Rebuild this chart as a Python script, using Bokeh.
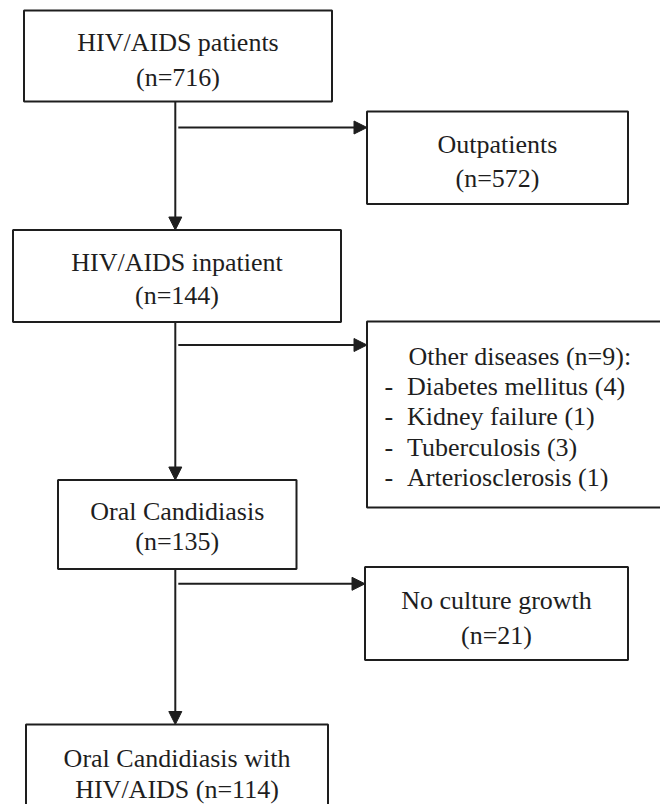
from bokeh.plotting import figure
from bokeh.models import Range1d, Arrow, NormalHead
from bokeh.core.properties import value
from bokeh.embed import file_html
from bokeh.resources import INLINE

# ---- data ----
main_labels = ["HIV/AIDS patients", "HIV/AIDS inpatient", "Oral Candidiasis", "Oral Candidiasis with"]
main_counts = [716, 144, 135, 114]
excluded_labels = ["Outpatients", "Other diseases", "No culture growth"]
excluded_counts = [572, 9, 21]
other_diseases = ["Diabetes mellitus", "Kidney failure", "Tuberculosis", "Arteriosclerosis"]
other_counts = [4, 1, 3, 1]

# ---- layout (pixel-like coordinates, y downward) ----
main_boxes = [(23.5, 331.5, 10, 101), (12.5, 340.5, 229.5, 321.5),
              (57.5, 296, 479.5, 568.5), (25.5, 327.5, 724, 840)]
side_boxes = [(366.5, 627.5, 111, 203.5), (366.5, 690, 321, 507),
              (364.5, 627.5, 566.5, 659.5)]
main_base = [(42, 77), (261.7, 295), (511, 541), (757.5, 788.5)]
side_base = [(143.5, 177.5), None, (600, 635)]
arrow_x = 174.8
side_arrow_y = [127, 344.5, 583.3]

INK = "#1e1e1e"
FONT = value("Liberation Serif")
FS = "26px"

p = figure(width=660, height=804, x_range=Range1d(0, 660), y_range=Range1d(804, 0),
           output_backend="svg", toolbar_location=None, min_border=0)
p.axis.visible = False
p.grid.visible = False
p.outline_line_color = None
p.background_fill_color = "white"

boxes = main_boxes + side_boxes
p.quad(left=[b[0] for b in boxes], right=[b[1] for b in boxes],
       top=[b[2] for b in boxes], bottom=[b[3] for b in boxes],
       fill_color="white", line_color=INK, line_width=2)

# vertical arrows between main boxes
for i in range(3):
    p.add_layout(Arrow(end=NormalHead(size=13, fill_color=INK, line_color=INK, line_width=1),
                       x_start=arrow_x, y_start=main_boxes[i][3], x_end=arrow_x, y_end=main_boxes[i + 1][2],
                       line_color=INK, line_width=2))
# side arrows
for i, y in enumerate(side_arrow_y):
    p.add_layout(Arrow(end=NormalHead(size=13, fill_color=INK, line_color=INK, line_width=1),
                       x_start=arrow_x + 3, y_start=y, x_end=side_boxes[i][0], y_end=y,
                       line_color=INK, line_width=2))

# main box texts
tx, ty, tt = [], [], []
for i, lab in enumerate(main_labels):
    cx = (main_boxes[i][0] + main_boxes[i][1]) / 2
    if i == 3:
        l1, l2 = lab, f"HIV/AIDS (n={main_counts[i]})"
    else:
        l1, l2 = lab, f"(n={main_counts[i]})"
    tx += [cx, cx]
    ty += list(main_base[i])
    tt += [l1, l2]
for i, lab in enumerate(excluded_labels):
    if side_base[i] is None:
        continue
    cx = (side_boxes[i][0] + side_boxes[i][1]) / 2
    tx += [cx, cx]
    ty += list(side_base[i])
    tt += [lab, f"(n={excluded_counts[i]})"]

p.text(x=tx, y=ty, text=tt, text_align="center", text_baseline="alphabetic",
       text_font=FONT, text_font_size=FS, text_color=INK)

# other diseases list
ox = [408]
oy = [355.5]
ot = [f"{excluded_labels[1]} (n={excluded_counts[1]}):"]
dx, dy = [], []
for j, (d, c) in enumerate(zip(other_diseases, other_counts)):
    ox.append(406.5)
    oy.append(386 + 30.3 * j)
    ot.append(f"{d} ({c})")
    dx.append(384)
    dy.append(386 + 30.3 * j)
p.text(x=ox, y=oy, text=ot, text_align="left", text_baseline="alphabetic",
       text_font=FONT, text_font_size=FS, text_color=INK)
p.text(x=dx, y=dy, text=["-"] * len(dx), text_align="left", text_baseline="alphabetic",
       text_font=FONT, text_font_size=FS, text_color=INK)

open("out.html", "w").write(file_html(p, INLINE))
